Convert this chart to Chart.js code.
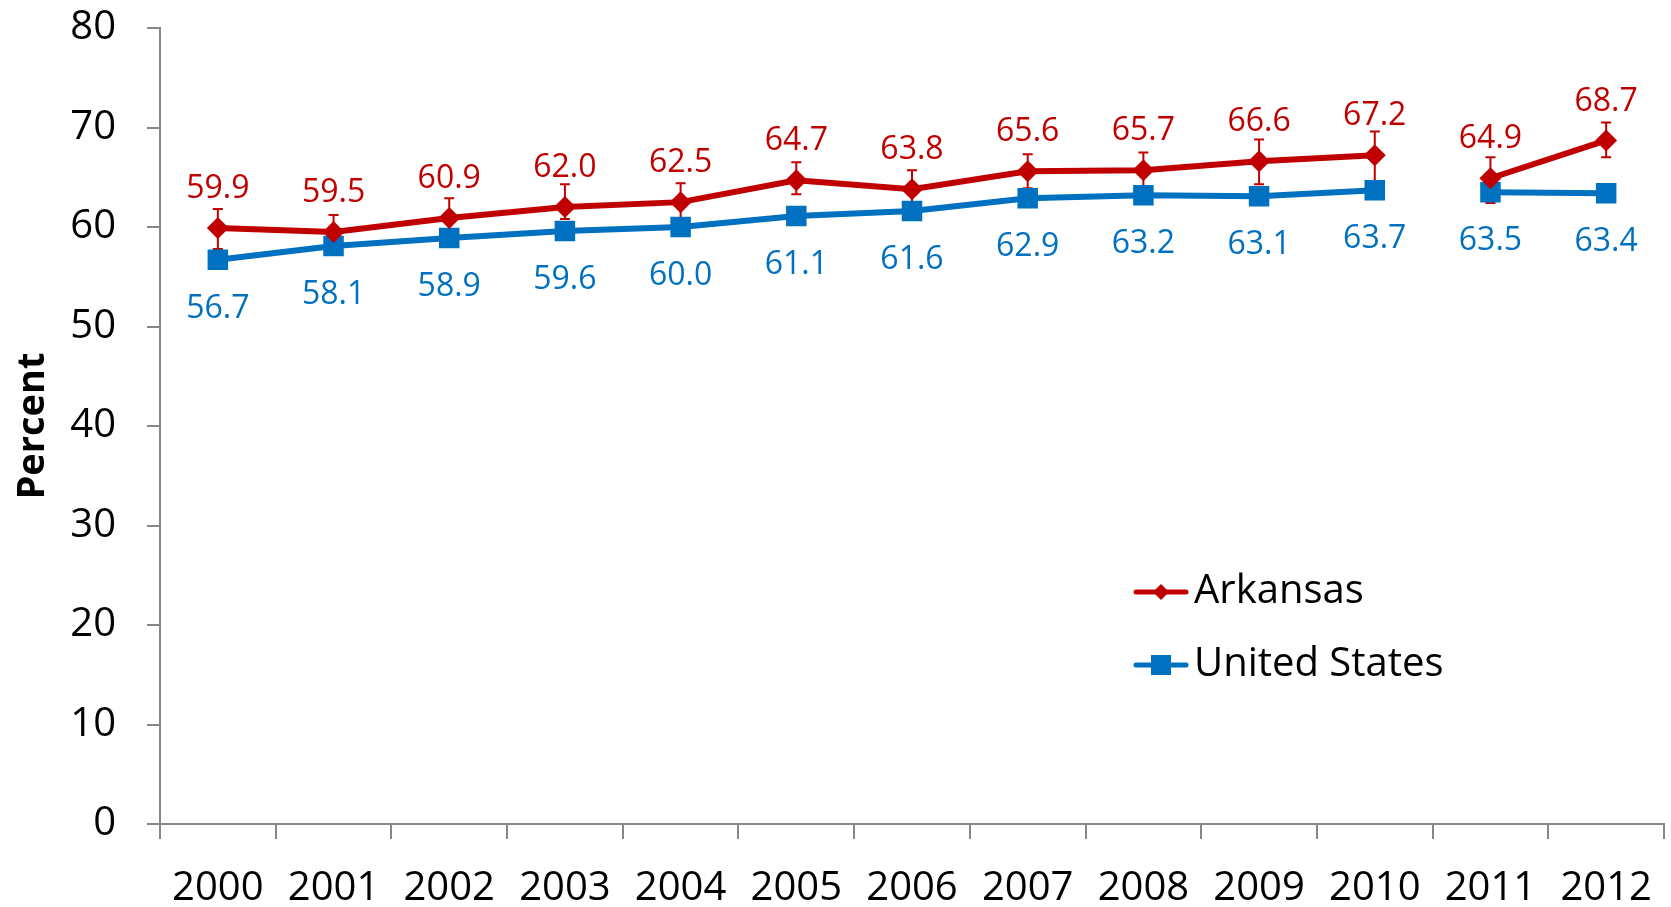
<!DOCTYPE html>
<html>
<head>
<meta charset="utf-8">
<script src="https://cdn.jsdelivr.net/npm/chart.js@4.4.1/dist/chart.umd.min.js"></script>
<style>
  body { margin: 0; background: #fff; }
  #wrap { width: 1671px; height: 907px; }
</style>
</head>
<body>
<div id="wrap"><canvas id="chart" width="1671" height="907"></canvas></div>
<script>
const years = ['2000', '2001', '2002', '2003', '2004', '2005', '2006', '2007', '2008', '2009', '2010', '2011', '2012'];
const arkansas = [59.9, 59.5, 60.9, 62.0, 62.5, 64.7, 63.8, 65.6, 65.7, 66.6, 67.2, 64.9, 68.7];
const unitedStates = [56.7, 58.1, 58.9, 59.6, 60.0, 61.1, 61.6, 62.9, 63.2, 63.1, 63.7, 63.5, 63.4];
// confidence interval half-widths for Arkansas (above / below)
const arkUpper = [1.9, 1.7, 2.0, 2.3, 1.9, 1.8, 1.9, 1.7, 1.8, 2.2, 2.4, 2.1, 1.8];
const arkLower = [2.1, 1.7, 2.0, 1.2, 1.9, 1.4, 1.9, 1.7, 1.8, 2.3, 2.6, 2.5, 1.7];
const yTicks = [0, 10, 20, 30, 40, 50, 60, 70, 80];

const RED = '#C00000';
const BLUE = '#0070C0';
const AXIS = '#868686';
const FONT = "'Open Sans', sans-serif";

// no line between 2010 and 2011
const breakAt = 10;
const segColor = color => ctx => ctx.p0DataIndex === breakAt ? 'rgba(0,0,0,0)' : color;

const errorBars = {
    id: 'errorBars',
    beforeDatasetsDraw(chart) {
        const { ctx, scales: { y } } = chart;
        const pts = chart.getDatasetMeta(0).data;
        ctx.save();
        ctx.strokeStyle = RED;
        ctx.lineWidth = 2;
        arkansas.forEach((v, i) => {
            const px = pts[i].x;
            const top = y.getPixelForValue(v + arkUpper[i]);
            const bot = y.getPixelForValue(v - arkLower[i]);
            ctx.beginPath();
            ctx.moveTo(px, top); ctx.lineTo(px, bot);
            ctx.moveTo(px - 5, top); ctx.lineTo(px + 5, top);
            ctx.moveTo(px - 5, bot); ctx.lineTo(px + 5, bot);
            ctx.stroke();
        });
        ctx.restore();
    }
};

const valueLabels = {
    id: 'valueLabels',
    afterDatasetsDraw(chart) {
        const { ctx } = chart;
        ctx.save();
        ctx.font = `32px ${FONT}`;
        ctx.textAlign = 'center';
        ctx.textBaseline = 'middle';
        chart.data.datasets.forEach((ds, di) => {
            const pts = chart.getDatasetMeta(di).data;
            ctx.fillStyle = ds.borderColor;
            ds.data.forEach((v, i) => {
                const dy = di === 0 ? -39 : 49;
                ctx.fillText(v.toFixed(1), pts[i].x, pts[i].y + dy);
            });
        });
        ctx.restore();
    }
};

const innerLegend = {
    id: 'innerLegend',
    afterDraw(chart) {
        const { ctx } = chart;
        const rows = [592, 665];
        ctx.save();
        chart.data.datasets.forEach((ds, di) => {
            const cy = rows[di];
            ctx.strokeStyle = ds.borderColor;
            ctx.lineWidth = 5;
            ctx.lineCap = 'round';
            ctx.beginPath();
            ctx.moveTo(1136, cy); ctx.lineTo(1186, cy);
            ctx.stroke();
            ctx.fillStyle = ds.borderColor;
            ctx.beginPath();
            if (di === 0) {
                ctx.moveTo(1161, cy - 8); ctx.lineTo(1169, cy); ctx.lineTo(1161, cy + 8); ctx.lineTo(1153, cy);
                ctx.closePath();
            } else {
                ctx.rect(1151, cy - 10, 20, 20);
            }
            ctx.fill();
            ctx.fillStyle = '#000';
            ctx.font = `40px ${FONT}`;
            ctx.textAlign = 'left';
            ctx.textBaseline = 'middle';
            ctx.fillText(ds.label, 1194, cy);
        });
        ctx.restore();
    }
};

new Chart(document.getElementById('chart'), {
    type: 'line',
    data: {
        labels: years,
        datasets: [
            {
                label: 'Arkansas',
                data: arkansas,
                borderColor: RED,
                backgroundColor: RED,
                borderWidth: 6,
                pointStyle: 'rectRot',
                pointRadius: 11,
                pointBorderWidth: 0,
                tension: 0,
                segment: { borderColor: segColor(RED) }
            },
            {
                label: 'United States',
                data: unitedStates,
                borderColor: BLUE,
                backgroundColor: BLUE,
                borderWidth: 6,
                pointStyle: 'rect',
                pointRadius: 14.5,
                pointBorderWidth: 0,
                tension: 0,
                segment: { borderColor: segColor(BLUE) }
            }
        ]
    },
    options: {
        responsive: false,
        animation: false,
        layout: { autoPadding: false, padding: { top: 28, right: 7, left: 0, bottom: 0 } },
        plugins: {
            legend: { display: false },
            tooltip: { enabled: false }
        },
        scales: {
            x: {
                type: 'category',
                offset: true,
                afterFit: s => { s.height = 83; s.paddingLeft = 0; s.paddingRight = 0; },
                grid: { offset: true, drawOnChartArea: false, tickLength: 15, color: AXIS, lineWidth: 2 },
                border: { color: AXIS, width: 2 },
                ticks: { color: '#000', font: { family: FONT, size: 40 }, padding: 26, maxRotation: 0, autoSkip: false }
            },
            y: {
                min: 0,
                max: 80,
                afterFit: s => { s.width = 160; s.paddingTop = 0; s.paddingBottom = 0; },
                afterBuildTicks: s => { s.ticks = yTicks.map(v => ({ value: v })); },
                grid: { drawOnChartArea: false, tickLength: 13, color: AXIS, lineWidth: 2 },
                border: { color: AXIS, width: 2 },
                ticks: { color: '#000', font: { family: FONT, size: 40 }, padding: 31 },
                title: {
                    display: true,
                    text: 'Percent',
                    color: '#000',
                    font: { family: FONT, size: 38, weight: 'bold' },
                    padding: { top: 10, bottom: 0 }
                }
            }
        }
    },
    plugins: [errorBars, valueLabels, innerLegend]
});
</script>
</body>
</html>
